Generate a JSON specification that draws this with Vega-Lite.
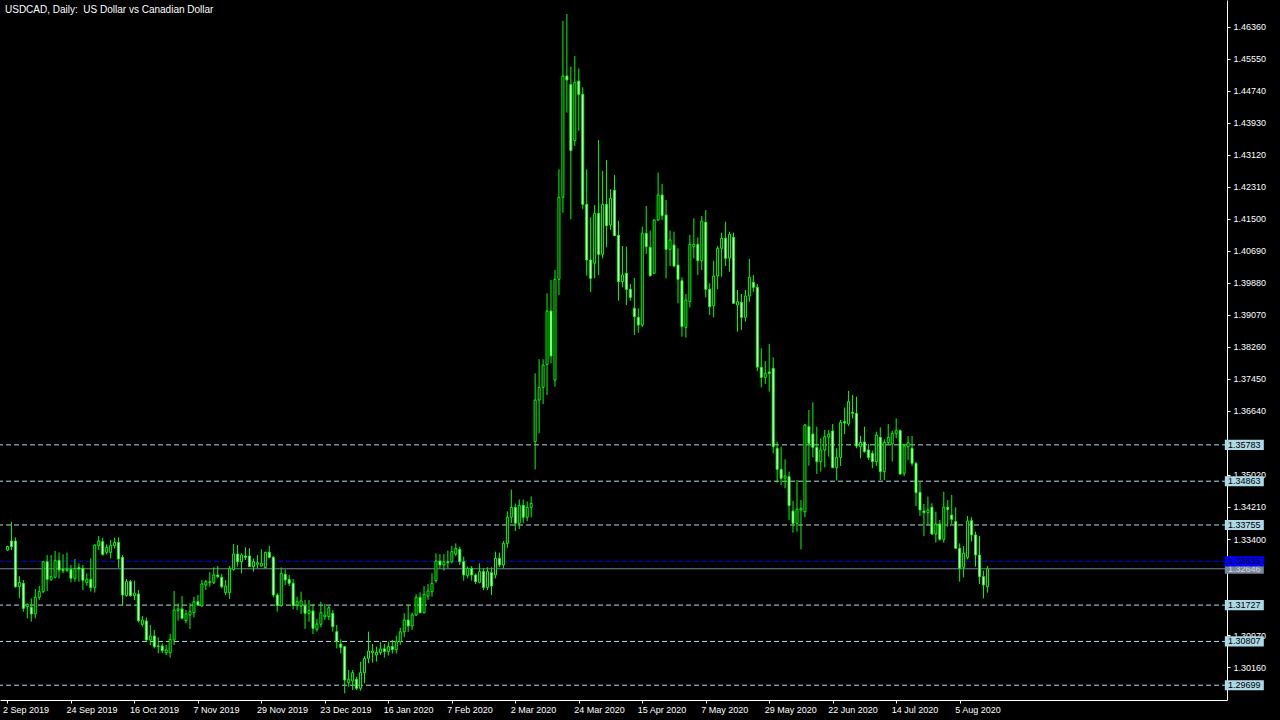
{
"$schema": "https://vega.github.io/schema/vega-lite/v6.json",
"width": 1227,
"height": 700,
"autosize": {"type": "none"},
"padding": {"left": 0, "top": 0, "right": 53, "bottom": 20},
"background": "black",
"config": {"view": {"stroke": null}, "font": "Liberation Sans", "axis": {"labelOverlap": false, "grid": false}},
"title": {"text": "USDCAD, Daily:\u00a0 US Dollar vs Canadian Dollar", "anchor": "start", "frame": "group", "offset": -15, "dx": 5, "color": "white", "fontSize": 10, "fontWeight": "normal", "font": "Liberation Sans"},
"resolve": {"axis": {"x": "independent", "y": "independent"}},
"datasets": {
"levels": [
{"p": 1.35783, "kind": "level"}, {"p": 1.34863, "kind": "level"}, {"p": 1.33755, "kind": "level"},
{"p": 1.31727, "kind": "level"}, {"p": 1.30807, "kind": "level"}, {"p": 1.29699, "kind": "level"},
{"p": 1.32646, "kind": "bid"}, {"p": 1.32835, "kind": "blue"}
],
"bars": [
{"i":0,"o":1.3312,"h":1.3323,"l":1.3310,"c":1.3321},
{"i":1,"o":1.33349,"h":1.33839,"l":1.33122,"c":1.33206},
{"i":2,"o":1.33349,"h":1.33442,"l":1.32168,"c":1.32193},
{"i":3,"o":1.32193,"h":1.32463,"l":1.31898,"c":1.32303},
{"i":4,"o":1.32278,"h":1.32362,"l":1.31561,"c":1.31645},
{"i":5,"o":1.31687,"h":1.31771,"l":1.31392,"c":1.31746},
{"i":6,"o":1.31671,"h":1.31898,"l":1.31308,"c":1.31502},
{"i":7,"o":1.31502,"h":1.32134,"l":1.31392,"c":1.31924},
{"i":8,"o":1.31924,"h":1.3221,"l":1.31856,"c":1.32067},
{"i":9,"o":1.32067,"h":1.32826,"l":1.32025,"c":1.32826},
{"i":10,"o":1.32826,"h":1.32995,"l":1.32084,"c":1.32379},
{"i":11,"o":1.32379,"h":1.32995,"l":1.32337,"c":1.32446},
{"i":12,"o":1.3243,"h":1.33096,"l":1.32404,"c":1.3286},
{"i":13,"o":1.3286,"h":1.33062,"l":1.32404,"c":1.32615},
{"i":14,"o":1.32632,"h":1.33012,"l":1.32531,"c":1.32598},
{"i":15,"o":1.32598,"h":1.33054,"l":1.32573,"c":1.32632},
{"i":16,"o":1.32632,"h":1.32742,"l":1.32303,"c":1.32404},
{"i":17,"o":1.32404,"h":1.32894,"l":1.3232,"c":1.32657},
{"i":18,"o":1.32674,"h":1.32784,"l":1.3232,"c":1.3264},
{"i":19,"o":1.32657,"h":1.32742,"l":1.32109,"c":1.32354},
{"i":20,"o":1.32303,"h":1.32531,"l":1.32219,"c":1.32379},
{"i":21,"o":1.32379,"h":1.32911,"l":1.32067,"c":1.32168},
{"i":22,"o":1.32168,"h":1.33265,"l":1.32042,"c":1.33248},
{"i":23,"o":1.33231,"h":1.33476,"l":1.33122,"c":1.33349},
{"i":24,"o":1.33332,"h":1.33434,"l":1.32978,"c":1.33012},
{"i":25,"o":1.33062,"h":1.33265,"l":1.33012,"c":1.33189},
{"i":26,"o":1.33062,"h":1.33375,"l":1.32911,"c":1.33231},
{"i":27,"o":1.33231,"h":1.33434,"l":1.33164,"c":1.33316},
{"i":28,"o":1.33316,"h":1.33442,"l":1.32674,"c":1.32894},
{"i":29,"o":1.32936,"h":1.32995,"l":1.31712,"c":1.31982},
{"i":30,"o":1.31966,"h":1.32387,"l":1.3194,"c":1.3232},
{"i":31,"o":1.3232,"h":1.32362,"l":1.31941,"c":1.31966},
{"i":32,"o":1.31966,"h":1.32345,"l":1.31856,"c":1.32025},
{"i":33,"o":1.32008,"h":1.32109,"l":1.31291,"c":1.31333},
{"i":34,"o":1.3124,"h":1.31451,"l":1.31181,"c":1.3135},
{"i":35,"o":1.31325,"h":1.31417,"l":1.30827,"c":1.30843},
{"i":36,"o":1.30843,"h":1.31223,"l":1.30717,"c":1.30945},
{"i":37,"o":1.30945,"h":1.31097,"l":1.30633,"c":1.30675},
{"i":38,"o":1.30692,"h":1.30911,"l":1.30506,"c":1.30675},
{"i":39,"o":1.30692,"h":1.30759,"l":1.30506,"c":1.30573},
{"i":40,"o":1.30523,"h":1.30717,"l":1.30464,"c":1.3059},
{"i":41,"o":1.30523,"h":1.30995,"l":1.30396,"c":1.3086},
{"i":42,"o":1.30843,"h":1.32084,"l":1.30717,"c":1.31603},
{"i":43,"o":1.31586,"h":1.31772,"l":1.31333,"c":1.31628},
{"i":44,"o":1.31628,"h":1.31957,"l":1.31367,"c":1.31392},
{"i":45,"o":1.31333,"h":1.31603,"l":1.31265,"c":1.31502},
{"i":46,"o":1.31477,"h":1.31772,"l":1.31122,"c":1.31561},
{"i":47,"o":1.31536,"h":1.31941,"l":1.31417,"c":1.31814},
{"i":48,"o":1.31814,"h":1.31982,"l":1.31704,"c":1.3173},
{"i":49,"o":1.31704,"h":1.32362,"l":1.31687,"c":1.32261},
{"i":50,"o":1.32236,"h":1.32362,"l":1.32109,"c":1.3232},
{"i":51,"o":1.32295,"h":1.32564,"l":1.32193,"c":1.3232},
{"i":52,"o":1.32295,"h":1.32683,"l":1.32261,"c":1.32489},
{"i":53,"o":1.32489,"h":1.32716,"l":1.32404,"c":1.32447},
{"i":54,"o":1.3243,"h":1.32514,"l":1.32151,"c":1.32193},
{"i":55,"o":1.32042,"h":1.32362,"l":1.31983,"c":1.3221},
{"i":56,"o":1.32042,"h":1.32717,"l":1.31882,"c":1.32658},
{"i":57,"o":1.32632,"h":1.33273,"l":1.32598,"c":1.3302},
{"i":58,"o":1.3302,"h":1.33248,"l":1.327,"c":1.32826},
{"i":59,"o":1.32826,"h":1.33037,"l":1.32531,"c":1.32995},
{"i":60,"o":1.3297,"h":1.33189,"l":1.32868,"c":1.32936},
{"i":61,"o":1.3297,"h":1.33164,"l":1.327,"c":1.327},
{"i":62,"o":1.327,"h":1.32911,"l":1.32573,"c":1.32826},
{"i":63,"o":1.3276,"h":1.32995,"l":1.3266,"c":1.328},
{"i":64,"o":1.32717,"h":1.33138,"l":1.327,"c":1.32784},
{"i":65,"o":1.32674,"h":1.33079,"l":1.32658,"c":1.33062},
{"i":66,"o":1.33062,"h":1.33223,"l":1.32911,"c":1.32936},
{"i":67,"o":1.32936,"h":1.3297,"l":1.31924,"c":1.31983},
{"i":68,"o":1.31983,"h":1.32025,"l":1.31561,"c":1.31713},
{"i":69,"o":1.31713,"h":1.32683,"l":1.31687,"c":1.32531},
{"i":70,"o":1.32506,"h":1.32632,"l":1.32236,"c":1.32362},
{"i":71,"o":1.32379,"h":1.32489,"l":1.3221,"c":1.32278},
{"i":72,"o":1.32278,"h":1.32387,"l":1.3162,"c":1.31713},
{"i":73,"o":1.31729,"h":1.31941,"l":1.31603,"c":1.31814},
{"i":74,"o":1.31704,"h":1.32067,"l":1.31502,"c":1.31831},
{"i":75,"o":1.31713,"h":1.31856,"l":1.31122,"c":1.31519},
{"i":76,"o":1.31519,"h":1.31856,"l":1.31308,"c":1.31586},
{"i":77,"o":1.31578,"h":1.31755,"l":1.30995,"c":1.31139},
{"i":78,"o":1.31114,"h":1.31375,"l":1.31055,"c":1.31249},
{"i":79,"o":1.3124,"h":1.31814,"l":1.31164,"c":1.31535},
{"i":80,"o":1.31434,"h":1.31755,"l":1.3135,"c":1.31476},
{"i":81,"o":1.31434,"h":1.31704,"l":1.3135,"c":1.31662},
{"i":82,"o":1.31519,"h":1.31603,"l":1.31055,"c":1.31181},
{"i":83,"o":1.31055,"h":1.31223,"l":1.30632,"c":1.30801},
{"i":84,"o":1.30742,"h":1.3086,"l":1.30506,"c":1.30658},
{"i":85,"o":1.30675,"h":1.30692,"l":1.29494,"c":1.29831},
{"i":86,"o":1.29763,"h":1.30084,"l":1.29662,"c":1.29848},
{"i":87,"o":1.29806,"h":1.30084,"l":1.29578,"c":1.30017},
{"i":88,"o":1.29848,"h":1.29915,"l":1.29578,"c":1.2962},
{"i":89,"o":1.2962,"h":1.30295,"l":1.29561,"c":1.30017},
{"i":90,"o":1.30017,"h":1.30438,"l":1.29747,"c":1.30379},
{"i":91,"o":1.30379,"h":1.31055,"l":1.30253,"c":1.30565},
{"i":92,"o":1.30523,"h":1.30742,"l":1.3027,"c":1.30565},
{"i":93,"o":1.30464,"h":1.30675,"l":1.30295,"c":1.30531},
{"i":94,"o":1.30523,"h":1.30801,"l":1.30464,"c":1.30616},
{"i":95,"o":1.3062,"h":1.3075,"l":1.304,"c":1.3055},
{"i":96,"o":1.3055,"h":1.308,"l":1.3045,"c":1.3068},
{"i":97,"o":1.3068,"h":1.3085,"l":1.305,"c":1.306},
{"i":98,"o":1.306,"h":1.3095,"l":1.305,"c":1.308},
{"i":99,"o":1.308,"h":1.3115,"l":1.3072,"c":1.3105},
{"i":100,"o":1.3105,"h":1.3152,"l":1.3092,"c":1.3135},
{"i":101,"o":1.3135,"h":1.3173,"l":1.3105,"c":1.312},
{"i":102,"o":1.312,"h":1.3154,"l":1.311,"c":1.3148},
{"i":103,"o":1.31476,"h":1.32,"l":1.31451,"c":1.31923},
{"i":104,"o":1.31923,"h":1.3205,"l":1.31518,"c":1.31535},
{"i":105,"o":1.31535,"h":1.3221,"l":1.31518,"c":1.32002},
{"i":106,"o":1.31957,"h":1.32261,"l":1.31856,"c":1.32084},
{"i":107,"o":1.32067,"h":1.32531,"l":1.3194,"c":1.32278},
{"i":108,"o":1.32345,"h":1.33037,"l":1.32295,"c":1.32843},
{"i":109,"o":1.32843,"h":1.3302,"l":1.32657,"c":1.32742},
{"i":110,"o":1.32742,"h":1.3302,"l":1.32598,"c":1.32826},
{"i":111,"o":1.32826,"h":1.33105,"l":1.32657,"c":1.32801},
{"i":112,"o":1.32826,"h":1.33223,"l":1.32784,"c":1.33079},
{"i":113,"o":1.3302,"h":1.3329,"l":1.3297,"c":1.33164},
{"i":114,"o":1.33139,"h":1.33206,"l":1.32742,"c":1.32826},
{"i":115,"o":1.32826,"h":1.32953,"l":1.32345,"c":1.32489},
{"i":116,"o":1.32472,"h":1.327,"l":1.32404,"c":1.32657},
{"i":117,"o":1.32657,"h":1.32717,"l":1.32345,"c":1.32489},
{"i":118,"o":1.32489,"h":1.32531,"l":1.32261,"c":1.3232},
{"i":119,"o":1.32303,"h":1.32784,"l":1.32278,"c":1.32573},
{"i":120,"o":1.32573,"h":1.32657,"l":1.32109,"c":1.32176},
{"i":121,"o":1.32176,"h":1.32683,"l":1.32109,"c":1.32573},
{"i":122,"o":1.32548,"h":1.32683,"l":1.31982,"c":1.3221},
{"i":123,"o":1.32489,"h":1.33079,"l":1.32404,"c":1.32911},
{"i":124,"o":1.32911,"h":1.33054,"l":1.32683,"c":1.32742},
{"i":125,"o":1.32742,"h":1.33349,"l":1.32658,"c":1.3329},
{"i":126,"o":1.3329,"h":1.341,"l":1.3318,"c":1.3395},
{"i":127,"o":1.3395,"h":1.3465,"l":1.338,"c":1.342},
{"i":128,"o":1.342,"h":1.343,"l":1.336,"c":1.338},
{"i":129,"o":1.338,"h":1.344,"l":1.3365,"c":1.3425},
{"i":130,"o":1.3425,"h":1.344,"l":1.338,"c":1.3395},
{"i":131,"o":1.3395,"h":1.3435,"l":1.3385,"c":1.342},
{"i":132,"o":1.342,"h":1.3448,"l":1.3395,"c":1.343},
{"i":133,"o":1.35864,"h":1.37594,"l":1.35163,"c":1.36918},
{"i":134,"o":1.36918,"h":1.37948,"l":1.36075,"c":1.37239},
{"i":135,"o":1.37239,"h":1.37948,"l":1.36817,"c":1.37804},
{"i":136,"o":1.37821,"h":1.39618,"l":1.37045,"c":1.39171},
{"i":137,"o":1.39171,"h":1.39956,"l":1.37847,"c":1.38032},
{"i":138,"o":1.37425,"h":1.40209,"l":1.37256,"c":1.39973},
{"i":139,"o":1.39973,"h":1.42757,"l":1.39576,"c":1.42048},
{"i":140,"o":1.42048,"h":1.46512,"l":1.4166,"c":1.4512},
{"i":141,"o":1.4512,"h":1.46689,"l":1.44192,"c":1.45019},
{"i":142,"o":1.44902,"h":1.45356,"l":1.41492,"c":1.43231},
{"i":143,"o":1.43483,"h":1.45626,"l":1.43348,"c":1.44959},
{"i":144,"o":1.44993,"h":1.45314,"l":1.43736,"c":1.44656},
{"i":145,"o":1.44656,"h":1.44833,"l":1.41753,"c":1.41871},
{"i":146,"o":1.41871,"h":1.42757,"l":1.40066,"c":1.40462},
{"i":147,"o":1.40462,"h":1.41542,"l":1.3965,"c":1.39998},
{"i":148,"o":1.40378,"h":1.41854,"l":1.39998,"c":1.41643},
{"i":149,"o":1.41643,"h":1.435,"l":1.40082,"c":1.40606},
{"i":150,"o":1.40606,"h":1.42715,"l":1.40504,"c":1.41871},
{"i":151,"o":1.41871,"h":1.42993,"l":1.40783,"c":1.41331},
{"i":152,"o":1.41348,"h":1.42251,"l":1.41222,"c":1.42023},
{"i":153,"o":1.42226,"h":1.42614,"l":1.4107,"c":1.41078},
{"i":154,"o":1.41087,"h":1.41458,"l":1.39433,"c":1.39914},
{"i":155,"o":1.39914,"h":1.40816,"l":1.3977,"c":1.40083},
{"i":156,"o":1.40125,"h":1.408,"l":1.39323,"c":1.3972},
{"i":157,"o":1.3972,"h":1.39855,"l":1.39433,"c":1.39517},
{"i":158,"o":1.39239,"h":1.40007,"l":1.38564,"c":1.39028},
{"i":159,"o":1.39011,"h":1.39239,"l":1.38623,"c":1.38817},
{"i":160,"o":1.38817,"h":1.41306,"l":1.38758,"c":1.41137},
{"i":161,"o":1.41137,"h":1.41829,"l":1.40614,"c":1.408},
{"i":162,"o":1.40783,"h":1.41205,"l":1.4004,"c":1.40066},
{"i":163,"o":1.40125,"h":1.41492,"l":1.40108,"c":1.41475},
{"i":164,"o":1.41475,"h":1.42673,"l":1.41458,"c":1.42107},
{"i":165,"o":1.42107,"h":1.42386,"l":1.41475,"c":1.41584},
{"i":166,"o":1.41601,"h":1.41981,"l":1.39998,"c":1.40732},
{"i":167,"o":1.40732,"h":1.41205,"l":1.4031,"c":1.40968},
{"i":168,"o":1.40842,"h":1.4118,"l":1.40277,"c":1.4031},
{"i":169,"o":1.40335,"h":1.40757,"l":1.39365,"c":1.39973},
{"i":170,"o":1.39939,"h":1.40024,"l":1.38522,"c":1.38775},
{"i":171,"o":1.38758,"h":1.39601,"l":1.38496,"c":1.3945},
{"i":172,"o":1.39408,"h":1.41095,"l":1.39264,"c":1.40859},
{"i":173,"o":1.408,"h":1.41517,"l":1.40504,"c":1.40859},
{"i":174,"o":1.40859,"h":1.41036,"l":1.40082,"c":1.40445},
{"i":175,"o":1.40445,"h":1.41576,"l":1.40209,"c":1.41449},
{"i":176,"o":1.41416,"h":1.41728,"l":1.39517,"c":1.3972},
{"i":177,"o":1.3972,"h":1.39872,"l":1.3907,"c":1.39281},
{"i":178,"o":1.39306,"h":1.40445,"l":1.39011,"c":1.40057},
{"i":179,"o":1.40057,"h":1.40817,"l":1.3972,"c":1.40758},
{"i":180,"o":1.40758,"h":1.41154,"l":1.4004,"c":1.41011},
{"i":181,"o":1.41011,"h":1.41432,"l":1.4031,"c":1.40504},
{"i":182,"o":1.40504,"h":1.4118,"l":1.40167,"c":1.41112},
{"i":183,"o":1.41036,"h":1.41154,"l":1.39365,"c":1.39365},
{"i":184,"o":1.39323,"h":1.39703,"l":1.38648,"c":1.39407},
{"i":185,"o":1.39391,"h":1.39601,"l":1.3869,"c":1.39011},
{"i":186,"o":1.39011,"h":1.39703,"l":1.38901,"c":1.39551},
{"i":187,"o":1.39551,"h":1.40488,"l":1.39407,"c":1.40024},
{"i":188,"o":1.39897,"h":1.40082,"l":1.39661,"c":1.39771},
{"i":189,"o":1.39771,"h":1.39855,"l":1.3765,"c":1.3775},
{"i":190,"o":1.37745,"h":1.38226,"l":1.37239,"c":1.37492},
{"i":191,"o":1.37492,"h":1.37906,"l":1.37323,"c":1.37593},
{"i":192,"o":1.37627,"h":1.38336,"l":1.3713,"c":1.37593},
{"i":193,"o":1.3772,"h":1.37998,"l":1.35568,"c":1.35737},
{"i":194,"o":1.35695,"h":1.35864,"l":1.34826,"c":1.35164},
{"i":195,"o":1.35164,"h":1.35737,"l":1.34767,"c":1.34936},
{"i":196,"o":1.34936,"h":1.35417,"l":1.34683,"c":1.34995},
{"i":197,"o":1.34978,"h":1.35105,"l":1.33881,"c":1.34244},
{"i":198,"o":1.34109,"h":1.34362,"l":1.3356,"c":1.33797},
{"i":199,"o":1.33797,"h":1.34894,"l":1.33585,"c":1.34151},
{"i":200,"o":1.34134,"h":1.34387,"l":1.33138,"c":1.34176},
{"i":201,"o":1.34092,"h":1.36311,"l":1.33948,"c":1.36286},
{"i":202,"o":1.36244,"h":1.36666,"l":1.35257,"c":1.35822},
{"i":203,"o":1.36058,"h":1.3686,"l":1.35467,"c":1.3572},
{"i":204,"o":1.3572,"h":1.36244,"l":1.35046,"c":1.35358},
{"i":205,"o":1.35358,"h":1.35948,"l":1.35105,"c":1.35653},
{"i":206,"o":1.35653,"h":1.36159,"l":1.35214,"c":1.3599},
{"i":207,"o":1.35974,"h":1.36159,"l":1.35484,"c":1.36058},
{"i":208,"o":1.36134,"h":1.36311,"l":1.35189,"c":1.35206},
{"i":209,"o":1.35206,"h":1.35695,"l":1.34877,"c":1.35467},
{"i":210,"o":1.35467,"h":1.36412,"l":1.35248,"c":1.36353},
{"i":211,"o":1.3637,"h":1.36724,"l":1.36058,"c":1.36336},
{"i":212,"o":1.36311,"h":1.37146,"l":1.36261,"c":1.36876},
{"i":213,"o":1.36606,"h":1.37045,"l":1.36454,"c":1.36581},
{"i":214,"o":1.36581,"h":1.37003,"l":1.35695,"c":1.35754},
{"i":215,"o":1.35737,"h":1.36007,"l":1.35442,"c":1.35847},
{"i":216,"o":1.35855,"h":1.36243,"l":1.35585,"c":1.35611},
{"i":217,"o":1.35653,"h":1.35805,"l":1.354,"c":1.35467},
{"i":218,"o":1.35568,"h":1.35636,"l":1.35189,"c":1.35358},
{"i":219,"o":1.35358,"h":1.36117,"l":1.35248,"c":1.36033},
{"i":220,"o":1.35973,"h":1.36226,"l":1.34893,"c":1.35104},
{"i":221,"o":1.35104,"h":1.35923,"l":1.34893,"c":1.35847},
{"i":222,"o":1.35838,"h":1.36311,"l":1.35779,"c":1.35973},
{"i":223,"o":1.35805,"h":1.36142,"l":1.35358,"c":1.36075},
{"i":224,"o":1.36075,"h":1.36454,"l":1.35948,"c":1.36142},
{"i":225,"o":1.36142,"h":1.36176,"l":1.3502,"c":1.35045},
{"i":226,"o":1.35062,"h":1.35805,"l":1.34995,"c":1.35754},
{"i":227,"o":1.35737,"h":1.36007,"l":1.35391,"c":1.35838},
{"i":228,"o":1.35695,"h":1.36007,"l":1.35248,"c":1.35315},
{"i":229,"o":1.35315,"h":1.35358,"l":1.34235,"c":1.34573},
{"i":230,"o":1.34581,"h":1.34852,"l":1.33982,"c":1.34134},
{"i":231,"o":1.34109,"h":1.34286,"l":1.33476,"c":1.34066},
{"i":232,"o":1.34066,"h":1.34472,"l":1.33754,"c":1.34134},
{"i":233,"o":1.34202,"h":1.34303,"l":1.33501,"c":1.33527},
{"i":234,"o":1.33527,"h":1.34092,"l":1.33307,"c":1.3378},
{"i":235,"o":1.3378,"h":1.33881,"l":1.33358,"c":1.33392},
{"i":236,"o":1.33392,"h":1.34598,"l":1.33307,"c":1.34202},
{"i":237,"o":1.34202,"h":1.34387,"l":1.33712,"c":1.34151},
{"i":238,"o":1.34007,"h":1.34514,"l":1.3378,"c":1.33898},
{"i":239,"o":1.33839,"h":1.34202,"l":1.33164,"c":1.33164},
{"i":240,"o":1.33164,"h":1.3329,"l":1.3232,"c":1.32657},
{"i":241,"o":1.32683,"h":1.33223,"l":1.3243,"c":1.33037},
{"i":242,"o":1.32936,"h":1.33982,"l":1.32885,"c":1.33856},
{"i":243,"o":1.33864,"h":1.33948,"l":1.33333,"c":1.33501},
{"i":244,"o":1.33501,"h":1.33586,"l":1.327,"c":1.32995},
{"i":245,"o":1.32995,"h":1.33476,"l":1.32261,"c":1.32447},
{"i":246,"o":1.32447,"h":1.32598,"l":1.31898,"c":1.32236},
{"i":247,"o":1.32193,"h":1.32717,"l":1.32042,"c":1.32646}
]
},
"layer": [
{
"data": {"name": "levels"},
"mark": {"type": "rule", "strokeWidth": 1},
"encoding": {
"y": {"field": "p", "type": "quantitative", "title": null,
"scale": {"domain": [1.293247, 1.470434], "nice": false, "zero": false},
"axis": {"orient": "right", "values": [1.3016,1.3097,1.3178,1.3259,1.334,1.3421,1.3502,1.3583,1.3664,1.3745,1.3826,1.3907,1.3988,1.4069,1.415,1.4231,1.4312,1.4393,1.4474,1.4555,1.4636],
"labelExpr": "indexof([1.3583, 1.3259, 1.3178], datum.value) >= 0 ? '' : format(datum.value, '.5f')",
"grid": false, "domainColor": "white", "tickColor": "white", "tickSize": 3, "labelColor": "white", "labelFont": "Liberation Sans", "labelFontSize": 9, "labelPadding": 3, "labelOverlap": false, "labelBound": false, "labelFlush": false}},
"stroke": {"field": "kind", "type": "nominal", "legend": null, "scale": {"domain": ["level", "blue", "bid"], "range": ["#b8d8e8", "#0000ff", "#778899"]}},
"strokeDash": {"field": "kind", "type": "nominal", "legend": null, "scale": {"domain": ["level", "blue", "bid"], "range": [[5, 3], [5, 3], [1, 0]]}}
}
},
{
"data": {"name": "bars"},
"mark": {"type": "rule", "color": "#00ff00", "strokeWidth": 1},
"encoding": {
"x": {"field": "i", "type": "quantitative", "title": null,
"scale": {"domain": [-0.625, 306.125], "nice": false, "zero": false},
"axis": {"values": [0,16,32,48,64,80,96,112,128,144,160,176,192,208,224,240],
"labelExpr": "['2 Sep 2019','24 Sep 2019','16 Oct 2019','7 Nov 2019','29 Nov 2019','23 Dec 2019','16 Jan 2020','7 Feb 2020','2 Mar 2020','24 Mar 2020','15 Apr 2020','7 May 2020','29 May 2020','22 Jun 2020','14 Jul 2020','5 Aug 2020'][round(datum.value/16)]",
"grid": false, "domainColor": "white", "tickColor": "white", "tickSize": 3, "labelColor": "white", "labelFont": "Liberation Sans", "labelFontSize": 9, "labelAlign": "left", "labelOffset": -5, "labelPadding": 2, "labelOverlap": false, "labelBound": false, "labelFlush": false}},
"y": {"field": "l", "type": "quantitative", "title": null, "axis": null},
"y2": {"field": "h"}
}
},
{
"data": {"name": "bars"},
"mark": {"type": "bar", "width": 2, "stroke": "#00ff00", "strokeWidth": 1},
"encoding": {
"x": {"field": "i", "type": "quantitative", "title": null, "axis": null},
"y": {"field": "o", "type": "quantitative", "title": null, "axis": null},
"y2": {"field": "c"},
"fill": {"condition": {"test": "datum.o > datum.c", "value": "white"}, "value": "black"}
}
},
{
"data": {"name": "levels"},
"transform": [{"filter": "datum.kind != 'blue'"}],
"mark": {"type": "point", "shape": "M-1,-0.26H1V0.26H-1Z", "size": 1521, "filled": true, "opacity": 1, "strokeWidth": 0},
"encoding": {
"x": {"datum": 311.75, "axis": null},
"y": {"field": "p", "type": "quantitative", "title": null, "axis": null},
"fill": {"field": "kind", "type": "nominal", "legend": null, "scale": {"domain": ["level", "blue", "bid"], "range": ["#add8e6", "#0000ff", "#778899"]}}
}
},
{
"data": {"name": "levels"},
"transform": [{"filter": "datum.kind != 'blue'"}],
"mark": {"type": "text", "align": "center", "baseline": "middle", "fontSize": 9, "font": "Liberation Sans"},
"encoding": {
"x": {"datum": 311.75, "axis": null},
"y": {"field": "p", "type": "quantitative", "title": null, "axis": null},
"text": {"field": "p", "type": "quantitative", "format": ".5f"},
"color": {"field": "kind", "type": "nominal", "legend": null, "scale": {"domain": ["level", "blue", "bid"], "range": ["black", "black", "#d8d8d8"]}}
}
},
{
"data": {"name": "levels"},
"transform": [{"filter": "datum.kind == 'blue'"}],
"mark": {"type": "point", "shape": "M-1,-0.26H1V0.26H-1Z", "size": 1521, "filled": true, "opacity": 1, "strokeWidth": 0},
"encoding": {
"x": {"datum": 311.75, "axis": null},
"y": {"field": "p", "type": "quantitative", "title": null, "axis": null},
"fill": {"field": "kind", "type": "nominal", "legend": null}
}
},
{
"data": {"name": "levels"},
"transform": [{"filter": "datum.kind == 'blue'"}],
"mark": {"type": "text", "align": "center", "baseline": "middle", "fontSize": 9, "font": "Liberation Sans"},
"encoding": {
"x": {"datum": 311.75, "axis": null},
"y": {"field": "p", "type": "quantitative", "title": null, "axis": null},
"text": {"field": "p", "type": "quantitative", "format": ".5f"},
"color": {"field": "kind", "type": "nominal", "legend": null}
}
},
{
"mark": {"type": "rule", "color": "white", "strokeWidth": 1},
"encoding": {"x": {"datum": 0, "axis": null}}
}
]
}
